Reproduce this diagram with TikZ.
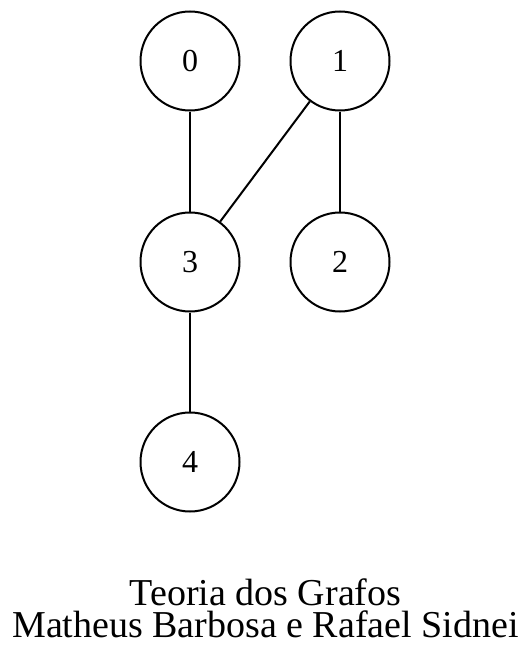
\documentclass[tikz,border=0pt]{standalone}
\usepackage{fontspec}
\setmainfont{Liberation Serif}
\tikzset{
  vertex/.style={circle, draw, line width=2pt, minimum size=99pt, inner sep=0pt,
    font=\fontsize{32}{32}\selectfont},
  edge/.style={line width=2pt}
}
\begin{document}
\begin{tikzpicture}[x=1pt, y=-1pt]
    \useasboundingbox (0,0) rectangle (531,661);

    % Vertices
    \node[vertex] (n0) at (190, 61) {0};
    \node[vertex] (n1) at (340, 61) {1};
    \node[vertex] (n3) at (190, 262) {3};
    \node[vertex] (n2) at (340, 262) {2};
    \node[vertex] (n4) at (190, 462) {4};

    % Edges
    \draw[edge] (n0) -- (n3);
    \draw[edge] (n1) -- (n3);
    \draw[edge] (n1) -- (n2);
    \draw[edge] (n3) -- (n4);

    % Caption
    \node[anchor=base, align=center, inner sep=0pt,
      font=\fontsize{38}{32}\selectfont] (caption) at (265.5, 637)
      {Teoria dos Grafos\\Matheus Barbosa e Rafael Sidnei};
\end{tikzpicture}
\end{document}
